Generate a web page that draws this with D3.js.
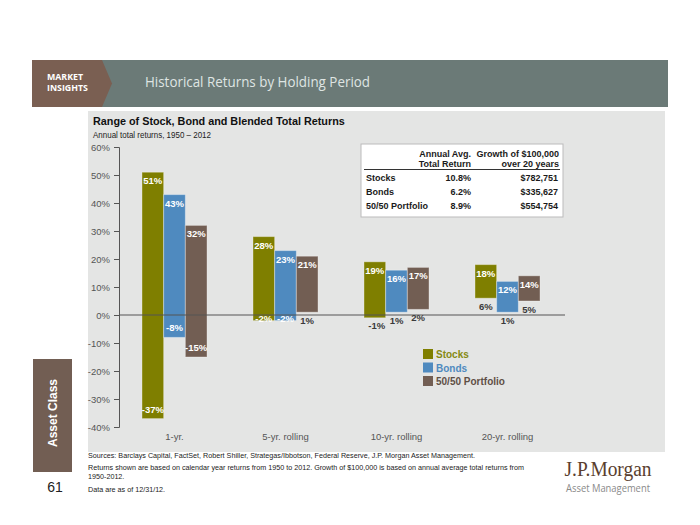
<!DOCTYPE html>
<html><head><meta charset="utf-8">
<script src="https://cdn.jsdelivr.net/npm/d3@7"></script>
<style>
html,body{margin:0;padding:0;background:#fff;}
svg{display:block;font-family:"Liberation Sans",Arial,sans-serif;}
</style></head>
<body>
<svg id="c" width="700" height="525"></svg>
<script>
// ---- data ----
const categories = ["1-yr.", "5-yr. rolling", "10-yr. rolling", "20-yr. rolling"];
const seriesNames = ["Stocks", "Bonds", "50/50 Portfolio"];
const stocksMax = [51, 28, 19, 18];
const stocksMin = [-37, -2, -1, 6];
const bondsMax = [43, 23, 16, 12];
const bondsMin = [-8, -2, 1, 1];
const portfolioMax = [32, 21, 17, 14];
const portfolioMin = [-15, 1, 2, 5];
const yTicks = [-40, -30, -20, -10, 0, 10, 20, 30, 40, 50, 60];
const tableRows = ["Stocks", "Bonds", "50/50 Portfolio"];
const avgReturn = ["10.8%", "6.2%", "8.9%"];
const growth = ["$782,751", "$335,627", "$554,754"];

const colors = {"Stocks": "#7f7f00", "Bonds": "#4f8abf", "50/50 Portfolio": "#725e53"};
const legendText = {"Stocks": "#868a12", "Bonds": "#4f8abf", "50/50 Portfolio": "#5f4f46"};

const maxBy = {"Stocks": stocksMax, "Bonds": bondsMax, "50/50 Portfolio": portfolioMax};
const minBy = {"Stocks": stocksMin, "Bonds": bondsMin, "50/50 Portfolio": portfolioMin};
const rows = [];
categories.forEach((c, i) => seriesNames.forEach(s => rows.push({cat: c, s, lo: minBy[s][i], hi: maxBy[s][i]})));

const svg = d3.select("#c");

// ---- header ----
svg.append("rect").attr("x", 32).attr("y", 60).attr("width", 636).attr("height", 47).attr("fill", "#6b7a77");
svg.append("path").attr("d", "M32,60 L102,60 L112,83.5 L102,107 L32,107 Z").attr("fill", "#7a5f52");
svg.append("text").attr("x", 47).attr("y", 80).attr("fill", "#fff").attr("font-family", "Open Sans, sans-serif")
  .attr("font-weight", 700).attr("font-size", 8.8).text("MARKET");
svg.append("text").attr("x", 47).attr("y", 91).attr("fill", "#fff").attr("font-family", "Open Sans, sans-serif")
  .attr("font-weight", 700).attr("font-size", 8.8).text("INSIGHTS");
svg.append("text").attr("x", 145).attr("y", 87).attr("fill", "#dfe5e3").attr("font-family", "Open Sans, sans-serif")
  .attr("font-size", 14).attr("textLength", 225).attr("lengthAdjust", "spacingAndGlyphs")
  .text("Historical Returns by Holding Period");

// ---- panel ----
svg.append("rect").attr("x", 88).attr("y", 111).attr("width", 577).attr("height", 341).attr("fill", "#e4e5e4");

// side bar
svg.append("rect").attr("x", 33).attr("y", 359).attr("width", 39).attr("height", 113).attr("fill", "#725e53");
svg.append("text").attr("transform", "translate(57,413) rotate(-90)").attr("text-anchor", "middle")
  .attr("fill", "#fff").attr("font-weight", 700).attr("font-size", 12).text("Asset Class");
svg.append("text").attr("x", 55).attr("y", 492).attr("text-anchor", "middle").attr("fill", "#222")
  .attr("font-size", 14).text("61");

// titles
svg.append("text").attr("x", 93).attr("y", 125).attr("fill", "#111").attr("font-weight", 700)
  .attr("font-size", 10.8).text("Range of Stock, Bond and Blended Total Returns");
svg.append("text").attr("x", 93).attr("y", 137.5).attr("fill", "#222")
  .attr("font-size", 9.5).attr("textLength", 118).attr("lengthAdjust", "spacingAndGlyphs")
  .text("Annual total returns, 1950 \u2013 2012");

// ---- scales ----
const y = d3.scaleLinear().domain([-40, 60]).range([427, 147]);
const x0 = d3.scaleBand().domain(categories).range([119, 563]).paddingInner(0.414).paddingOuter(0.207);
const x1 = d3.scaleBand().domain(seriesNames).range([0, x0.bandwidth()]);

// y axis
const ax = svg.append("g").attr("transform", "translate(119,0)")
  .call(d3.axisLeft(y).tickValues(yTicks).tickFormat(d => d + "%").tickSize(5).tickSizeOuter(5));
ax.select(".domain").attr("stroke", "#555");
ax.selectAll(".tick line").attr("stroke", "#555");
ax.selectAll(".tick text").attr("fill", "#555").attr("font-size", 9.5).attr("x", -9)
  .attr("font-family", "Liberation Sans, Arial, sans-serif");

// x labels
const bx = svg.append("g").attr("transform", "translate(0,430)")
  .call(d3.axisBottom(x0).tickSize(0).tickPadding(3));
bx.select(".domain").remove();
bx.selectAll(".tick text").attr("fill", "#555").attr("font-size", 9.5)
  .attr("font-family", "Liberation Sans, Arial, sans-serif");

// bars
const bars = svg.append("g");
bars.selectAll("rect").data(rows).join("rect")
  .attr("x", d => x0(d.cat) + x1(d.s))
  .attr("width", x1.bandwidth())
  .attr("y", d => y(d.hi))
  .attr("height", d => y(d.lo) - y(d.hi))
  .attr("fill", d => colors[d.s])
  .attr("stroke", "rgba(255,255,255,0.35)").attr("stroke-width", 1);

// zero line
svg.append("line").attr("x1", 119).attr("x2", 565).attr("y1", y(0)).attr("y2", y(0))
  .attr("stroke", "#555").attr("stroke-width", 1.2);

// labels
const lab = svg.append("g").attr("font-weight", 700).attr("font-size", 9.5).attr("text-anchor", "middle");
lab.selectAll("text.hi").data(rows).join("text").attr("class", "hi")
  .attr("x", d => x0(d.cat) + x1(d.s) + x1.bandwidth() / 2)
  .attr("y", d => y(d.hi) + 12)
  .attr("fill", "#fff").text(d => d.hi + "%");
lab.selectAll("text.lo").data(rows).join("text").attr("class", "lo")
  .attr("x", d => x0(d.cat) + x1(d.s) + x1.bandwidth() / 2 + (d.lo < 0 && d.lo > -1.5 ? 2 : 0))
  .attr("y", d => d.lo <= -5 ? y(d.lo) - 6 : (d.lo < -1.5 ? y(d.lo) + 1 : y(d.lo) + 11.5))
  .attr("fill", d => d.lo < -1.5 ? "#fff" : "#3a3a3a").text(d => d.lo + "%");

// legend
const lg = svg.append("g").attr("transform", "translate(423,349)");
seriesNames.forEach((s, i) => {
  const g = lg.append("g").attr("transform", `translate(0,${i * 13.5})`);
  g.append("rect").attr("width", 10).attr("height", 10).attr("fill", colors[s]);
  g.append("text").attr("x", 13).attr("y", 9).attr("fill", legendText[s]).attr("font-weight", 700)
    .attr("font-size", 10).text(s);
});

// table
const tb = svg.append("g").attr("font-weight", 700).attr("font-size", 9).attr("fill", "#1a1a1a");
tb.append("rect").attr("x", 361).attr("y", 144).attr("width", 202).attr("height", 73)
  .attr("fill", "#fff").attr("stroke", "#bbb").attr("stroke-width", 1);
tb.append("text").attr("x", 471).attr("y", 157).attr("text-anchor", "end").text("Annual Avg.");
tb.append("text").attr("x", 471).attr("y", 167).attr("text-anchor", "end").text("Total Return");
tb.append("text").attr("x", 559).attr("y", 157).attr("text-anchor", "end").text("Growth of $100,000");
tb.append("text").attr("x", 559).attr("y", 167).attr("text-anchor", "end").text("over 20 years");
tb.append("line").attr("x1", 364).attr("x2", 560).attr("y1", 169.5).attr("y2", 169.5).attr("stroke", "#333").attr("stroke-width", 1);
tableRows.forEach((r, i) => {
  const yy = 181 + i * 14;
  tb.append("text").attr("x", 366).attr("y", yy).text(r);
  tb.append("text").attr("x", 471).attr("y", yy).attr("text-anchor", "end").text(avgReturn[i]);
  tb.append("text").attr("x", 558).attr("y", yy).attr("text-anchor", "end").text(growth[i]);
});

// footer
const ft = svg.append("g").attr("font-size", 7.2).attr("fill", "#222");
ft.append("text").attr("x", 88).attr("y", 458).text("Sources: Barclays Capital, FactSet, Robert Shiller, Strategas/Ibbotson, Federal Reserve, J.P. Morgan Asset Management.");
ft.append("text").attr("x", 88).attr("y", 470).text("Returns shown are based on calendar year returns from 1950 to 2012. Growth of $100,000 is based on annual average total returns from");
ft.append("text").attr("x", 88).attr("y", 479).text("1950-2012.");
ft.append("text").attr("x", 88).attr("y", 492).text("Data are as of 12/31/12.");

// logo
svg.append("text").attr("x", 608).attr("y", 476).attr("text-anchor", "middle").attr("fill", "#5a3e2e")
  .attr("font-family", "Liberation Serif, DejaVu Serif, serif").attr("font-size", 20)
  .attr("textLength", 87).attr("lengthAdjust", "spacingAndGlyphs").text("J.P.Morgan");
svg.append("text").attr("x", 608).attr("y", 492).attr("text-anchor", "middle").attr("fill", "#8a8a8a")
  .attr("font-family", "Open Sans, sans-serif").attr("font-size", 11.5)
  .attr("textLength", 84).attr("lengthAdjust", "spacingAndGlyphs").text("Asset Management");
</script>
</body></html>
